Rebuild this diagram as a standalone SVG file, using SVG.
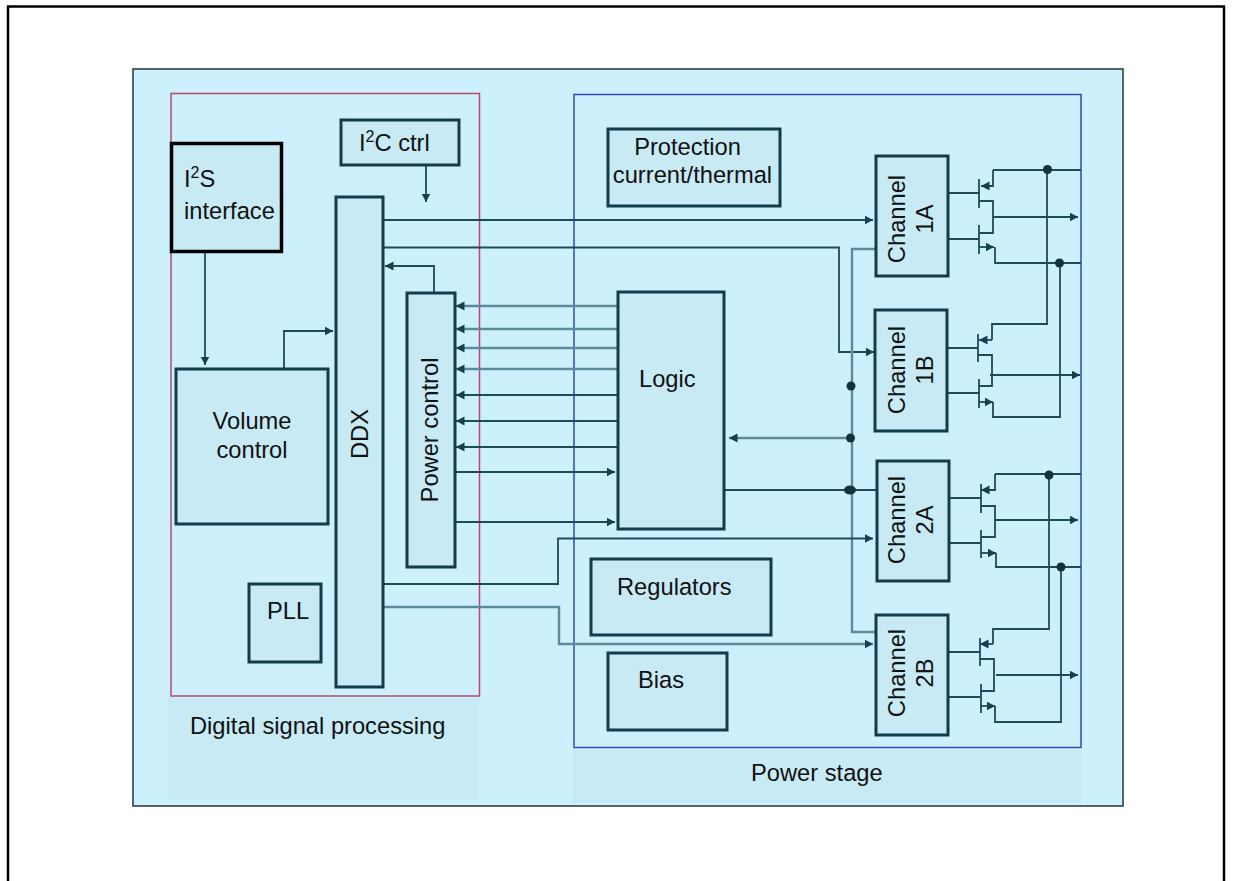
<svg xmlns="http://www.w3.org/2000/svg" width="1233" height="881" viewBox="0 0 1233 881">
<style>
text{font-family:"Liberation Sans",Arial,sans-serif;font-size:23.7px;fill:#111}
.sup{font-size:16px}
.box{fill:#c8eaf5;stroke:#123c4a;stroke-width:3}
.blk{fill:#c8eaf5;stroke:#000;stroke-width:3.5}
.c{fill:none;stroke:#1f4a58;stroke-width:1.8}
.f{fill:none;stroke:#5f8a99;stroke-width:2.4}
.a{marker-end:url(#arr)}
.d{fill:#12323e;stroke:none}
</style>
<defs>
<marker id="arr" markerUnits="userSpaceOnUse" markerWidth="10" markerHeight="10" refX="8.5" refY="5" orient="auto"><path d="M0,0.5 L8.5,5 L0,9.5 Z" fill="#16404d"/></marker>
</defs>
<rect width="1233" height="881" fill="#fff"/>
<path d="M8,881 V6.5 H1224 V881" fill="none" stroke="#000" stroke-width="2.5"/>
<rect id="bg" x="133" y="69" width="990" height="737" fill="#cdf0fd" stroke="#2c4048" stroke-width="1.6"/>
<rect x="168" y="698" width="311" height="102" fill="#c8eaf5"/>
<rect x="573" y="750" width="509" height="53" fill="#c8eaf5"/>
<g id="dsp-frame"><rect x="171" y="93.5" width="308.5" height="602.5" fill="none" stroke="#b8486a" stroke-width="1.5"/></g>
<g id="power-frame"><rect x="574" y="94.5" width="507" height="653" fill="none" stroke="#2f48b4" stroke-width="1.5"/></g>

<g id="connectors">
<path class="c a" d="M426,165 V202"/>
<path class="c a" d="M205,252 V365"/>
<path class="c a" d="M284,369 V331 H333"/>
<path class="c a" d="M434,293 V266 H385"/>
<path class="c a" d="M383,220 H873"/>
<path class="c a" d="M383,247.5 H839 V352 H874"/>
<path class="f a" d="M618,306 H456"/>
<path class="f a" d="M618,329 H456"/>
<path class="f a" d="M618,348 H456"/>
<path class="f a" d="M618,369 H456"/>
<path class="c a" d="M618,395 H456"/>
<path class="c a" d="M618,421 H456"/>
<path class="c a" d="M618,447 H456"/>
<path class="c a" d="M455,472 H615"/>
<path class="c a" d="M455,522 H615"/>
<path class="f a" d="M850,438 H729"/>
<path class="c" d="M724,490 H877"/>
<path class="f" d="M876,249 H852 V632 H876"/>
<path class="c a" d="M383,584 H558 V538.5 H873"/>
<path class="f a" d="M383,607 H559 V644 H873"/>

<path class="c" d="M948,193 H979 M948,239 H979 M979,179 V208 M979,225 V254"/>
<path class="c a" d="M993,170 V186 H981"/>
<path class="c" d="M993,170 H1081 M979,201 H993 V233 H979"/>
<path class="c a" d="M993,217 H1078"/>
<path class="c a" d="M979,247 H994"/>
<path class="c" d="M995,247 V263 H1081 M1047,170 V324 H992 V340"/>
<path class="c a" d="M992,340 H979"/>
<path class="c" d="M947,348 H978 M947,393 H979 M978,334 V362 M979,379 V408 M978,355 H992 V386 H979"/>
<path class="c a" d="M990,375 H1080"/>
<path class="c a" d="M979,402 H993"/>
<path class="c" d="M993,402 V417 H1060 V263"/>

<path class="c" d="M949,498 H981 M949,543 H981 M981,484 V513 M981,530 V558"/>
<path class="c a" d="M995,474 V490 H981"/>
<path class="c" d="M995,474 H1081 M981,506 H995 V537 H981"/>
<path class="c a" d="M995,520 H1078"/>
<path class="c a" d="M981,553 H996"/>
<path class="c" d="M996,553 V567 H1081 M1049,475 V629 H993 V644"/>
<path class="c a" d="M993,644 H980"/>
<path class="c" d="M948,652 H980 M948,697 H980 M980,638 V666 M981,684 V713 M980,659 H994 V691 H981"/>
<path class="c a" d="M996,675 H1078"/>
<path class="c a" d="M981,706 H995"/>
<path class="c" d="M995,706 V722 H1061 V567"/>

<circle class="d" cx="1047.5" cy="169.5" r="4.5"/>
<circle class="d" cx="1059.5" cy="263" r="4.5"/>
<circle class="d" cx="1049" cy="475" r="4.5"/>
<circle class="d" cx="1061" cy="567" r="4.5"/>
<circle class="d" cx="851" cy="386" r="4.5"/>
<circle class="d" cx="850.5" cy="438" r="4.5"/>
<ellipse class="d" cx="850" cy="490" rx="6" ry="4.5"/>
</g>

<g id="i2s"><rect class="blk" x="171.5" y="143.5" width="110" height="108"/><text x="184" y="187">I<tspan class="sup" dy="-9">2</tspan><tspan dy="9">S</tspan></text><text x="184" y="219">interface</text></g>
<g id="i2c"><rect class="box" x="341" y="120" width="118" height="45"/><text x="359" y="151">I<tspan class="sup" dy="-9">2</tspan><tspan dy="9">C ctrl</tspan></text></g>
<g id="ddx"><rect class="box" x="336" y="197" width="47" height="490"/><text transform="translate(368,434) rotate(-90)" text-anchor="middle">DDX</text></g>
<g id="power-control"><rect class="box" x="407" y="293" width="48" height="274"/><text transform="translate(438,430) rotate(-90)" text-anchor="middle">Power control</text></g>
<g id="volume"><rect class="box" x="176" y="369" width="152" height="155"/><text x="252" y="429" text-anchor="middle">Volume</text><text x="252" y="458" text-anchor="middle">control</text></g>
<g id="pll"><rect class="box" x="249" y="584" width="72" height="78"/><text x="267" y="619">PLL</text></g>
<g id="logic"><rect class="box" x="618" y="292" width="106" height="237"/><text x="639" y="387">Logic</text></g>
<g id="protection"><rect class="box" x="608" y="129" width="172" height="77"/><text x="687.5" y="155" text-anchor="middle">Protection</text><text x="692.5" y="183" text-anchor="middle">current/thermal</text></g>
<g id="regulators"><rect class="box" x="591" y="559" width="180" height="76"/><text x="617" y="595">Regulators</text></g>
<g id="bias"><rect class="box" x="608" y="653" width="119" height="77"/><text x="638" y="688">Bias</text></g>
<g id="ch1a"><rect class="box" x="876" y="156" width="72" height="120"/><text transform="translate(905,219) rotate(-90)" text-anchor="middle">Channel</text><text transform="translate(933,219) rotate(-90)" text-anchor="middle">1A</text></g>
<g id="ch1b"><rect class="box" x="875" y="310" width="72" height="121"/><text transform="translate(905,370) rotate(-90)" text-anchor="middle">Channel</text><text transform="translate(933,370) rotate(-90)" text-anchor="middle">1B</text></g>
<g id="ch2a"><rect class="box" x="877" y="461" width="72" height="120"/><text transform="translate(905,520) rotate(-90)" text-anchor="middle">Channel</text><text transform="translate(933,520) rotate(-90)" text-anchor="middle">2A</text></g>
<g id="ch2b"><rect class="box" x="876" y="615" width="72" height="120"/><text transform="translate(905,673) rotate(-90)" text-anchor="middle">Channel</text><text transform="translate(933,673) rotate(-90)" text-anchor="middle">2B</text></g>
<text x="190" y="734">Digital signal processing</text>
<text x="751" y="781">Power stage</text>
</svg>
